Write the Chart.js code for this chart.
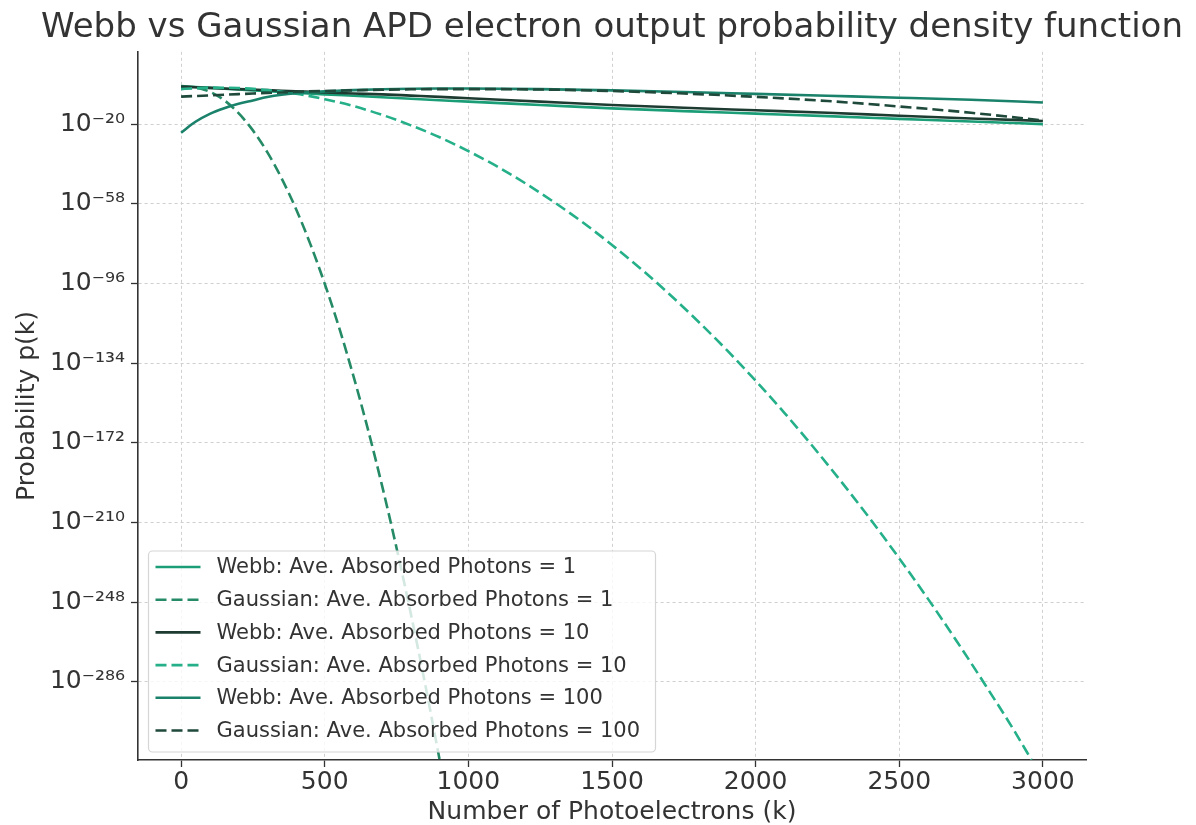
<!DOCTYPE html>
<html lang="en">
<head>
<meta charset="UTF-8">
<title>Webb vs Gaussian APD electron output probability density function</title>
<script src="https://cdn.jsdelivr.net/npm/chart.js"></script>
<style>
  body { margin: 0; background: #fff; }
  #wrap { width: 1196px; height: 825px; position: relative; }
</style>
</head>
<body>
<div id="wrap"><canvas id="pdfChart"></canvas></div>
<script>
const kWebb = [0, 50, 100, 150, 200, 250, 300, 350, 400, 500, 600, 700, 800, 900, 1000, 1250, 1500, 1750, 2000, 2250, 2500, 2750, 3000];
const webb1 = [-1.8, -2.2, -2.6, -3.0, -3.4, -3.8, -4.2, -4.6, -4.9, -5.7, -6.4, -7.1, -7.8, -8.5, -9.2, -10.8, -12.4, -13.7, -14.9, -16.1, -17.4, -18.7, -19.9];
const webb10 = [-2.0, -2.3, -2.6, -2.9, -3.2, -3.4, -3.7, -4.0, -4.2, -4.8, -5.3, -5.7, -6.3, -6.9, -7.6, -9.2, -10.8, -12.1, -13.3, -14.5, -15.9, -17.2, -18.4];
const webb100 = [-24.0, -18.8, -15.0, -12.3, -10.2, -8.6, -7.0, -5.9, -5.2, -4.3, -3.7, -3.3, -3.0, -2.9, -2.9, -3.2, -3.8, -4.6, -5.5, -6.4, -7.3, -8.3, -9.6];
const gauss100 = [-6.8, -6.5, -6.2, -5.9, -5.6, -5.3, -5.0, -4.8, -4.5, -4.1, -3.8, -3.5, -3.3, -3.2, -3.2, -3.4, -4.1, -5.3, -6.9, -8.9, -11.5, -14.5, -18.2];

const kGauss1 = [0, 50, 100, 150, 200, 250, 300, 350, 400, 450, 500, 550, 600, 650, 700, 750, 800, 850, 900];
const gauss1 = [-2.8, -2.6, -4.5, -8.5, -14.7, -22.9, -33.3, -45.8, -60.4, -77.2, -96.1, -117.0, -140.2, -165.4, -192.7, -222.2, -253.8, -287.5, -323.3];

const kGauss10 = [0, 100, 200, 300, 400, 500, 600, 700, 800, 900, 1000, 1100, 1200, 1300, 1400, 1500, 1600, 1700, 1800, 1900, 2000, 2100, 2200, 2300, 2400, 2500, 2600, 2700, 2800, 2900, 2960];
const gauss10 = [-3.2, -2.5, -2.7, -3.7, -5.4, -8.0, -11.3, -15.5, -20.5, -26.2, -32.8, -40.1, -48.3, -57.3, -67.0, -77.6, -88.9, -101.1, -114.1, -127.8, -142.4, -157.7, -173.9, -190.9, -208.6, -227.2, -246.5, -266.7, -287.7, -309.4, -323.3];

const xTicks = [0, 500, 1000, 1500, 2000, 2500, 3000];
const yTicks = [-20, -58, -96, -134, -172, -210, -248, -286];

const seriesLabels = [
  'Webb: Ave. Absorbed Photons = 1',
  'Gaussian: Ave. Absorbed Photons = 1',
  'Webb: Ave. Absorbed Photons = 10',
  'Gaussian: Ave. Absorbed Photons = 10',
  'Webb: Ave. Absorbed Photons = 100',
  'Gaussian: Ave. Absorbed Photons = 100'
];
const seriesColors = ['#1b9e77', '#258a66', '#1d3b31', '#25b08a', '#1a826a', '#1f4a3b'];

const supMap = {'-': '\u207b', '0': '\u2070', '1': '\u00b9', '2': '\u00b2', '3': '\u00b3', '4': '\u2074', '5': '\u2075', '6': '\u2076', '7': '\u2077', '8': '\u2078', '9': '\u2079'};
function sup(n) { return String(n).split('').map(c => supMap[c]).join(''); }

function pts(ks, vs) { return ks.map((k, i) => ({x: k, y: vs[i]})); }

const seriesData = [pts(kWebb, webb1), pts(kGauss1, gauss1), pts(kWebb, webb10), pts(kGauss10, gauss10), pts(kWebb, webb100), pts(kWebb, gauss100)];

const datasets = seriesData.map((d, i) => ({
  label: seriesLabels[i],
  data: d,
  yAxisID: 'y',
  borderColor: seriesColors[i],
  backgroundColor: seriesColors[i],
  borderWidth: 2.6,
  borderDash: i % 2 === 1 ? [11, 5] : [],
  pointRadius: 0,
  fill: false,
  cubicInterpolationMode: 'monotone',
  order: 5 - i
}));

const FONT = 'DejaVu Sans';

// legend drawn inside the plot, lower left, like the original
const legendBox = {
  id: 'legendBox',
  afterDatasetsDraw(chart) {
    const ctx = chart.ctx;
    const area = chart.chartArea;
    const w = 507, h = 201;
    const x0 = area.left + 10.5, y0 = area.bottom - 8 - h;
    ctx.save();
    ctx.beginPath();
    ctx.roundRect(x0, y0, w, h, 4);
    ctx.fillStyle = 'rgba(255,255,255,0.8)';
    ctx.fill();
    ctx.strokeStyle = '#d6d6d6';
    ctx.lineWidth = 1.2;
    ctx.stroke();
    ctx.font = '21px "' + FONT + '"';
    ctx.textBaseline = 'middle';
    chart.data.datasets.forEach((ds, i) => {
      const cy = y0 + 16 + i * 32.7;
      ctx.beginPath();
      ctx.setLineDash(ds.borderDash);
      ctx.strokeStyle = ds.borderColor;
      ctx.lineWidth = 2.6;
      ctx.moveTo(x0 + 7, cy);
      ctx.lineTo(x0 + 52, cy);
      ctx.stroke();
      ctx.setLineDash([]);
      ctx.fillStyle = '#333';
      ctx.fillText(ds.label, x0 + 68, cy + 1);
    });
    ctx.restore();
  }
};

new Chart(document.getElementById('pdfChart'), {
  type: 'line',
  data: { datasets: datasets },
  plugins: [legendBox],
  options: {
    responsive: true,
    maintainAspectRatio: false,
    animation: false,
    layout: { padding: { left: 28, right: 0, top: 0, bottom: 0 } },
    plugins: {
      legend: { display: false },
      tooltip: { enabled: false },
      title: {
        display: true,
        text: 'Webb vs Gaussian APD electron output probability density function',
        color: '#333',
        font: { family: FONT, size: 34, weight: 'normal', lineHeight: 1.2 },
        padding: { top: 8, bottom: 3 }
      }
    },
    scales: {
      x: {
        type: 'linear',
        min: -150,
        max: 3150,
        afterBuildTicks: s => { s.ticks = xTicks.map(v => ({value: v})); },
        afterFit: s => { s.height = 65; },
        ticks: { callback: v => String(v), color: '#333', font: { family: FONT, size: 25 }, padding: 0, maxRotation: 0 },
        grid: { color: '#cfcfcf', lineWidth: 1, tickLength: 7, tickColor: '#333', tickWidth: 1.3, tickBorderDash: [] },
        border: { display: true, color: '#333', width: 1.6, dash: [3, 3] },
        title: { display: true, text: 'Number of Photoelectrons (k)', color: '#333', font: { family: FONT, size: 25, lineHeight: 1 }, padding: { top: 0, bottom: 0 } }
      },
      y: {
        type: 'linear',
        position: 'left',
        min: -323.4,
        max: 14.6,
        afterBuildTicks: s => { s.ticks = yTicks.map(v => ({value: v})); },
        afterFit: s => { s.width = 110; },
        ticks: { callback: v => '10' + sup(v), color: '#333', font: { family: FONT, size: 25 }, padding: 6 },
        grid: { color: '#cfcfcf', lineWidth: 1, tickLength: 7, tickColor: '#333', tickWidth: 1.3, tickBorderDash: [] },
        border: { display: true, color: '#333', width: 1.6, dash: [3, 3] },
        title: { display: true, text: 'Probability p(k)', color: '#333', font: { family: FONT, size: 25, lineHeight: 1 }, padding: { top: -13, bottom: 0 } }
      },
      // empty space on the right, as in the original figure
      yRight: {
        type: 'linear',
        position: 'right',
        display: true,
        afterFit: s => { s.width = 110; },
        ticks: { display: false },
        grid: { display: false, drawTicks: false },
        border: { display: false }
      }
    }
  }
});
</script>
</body>
</html>
